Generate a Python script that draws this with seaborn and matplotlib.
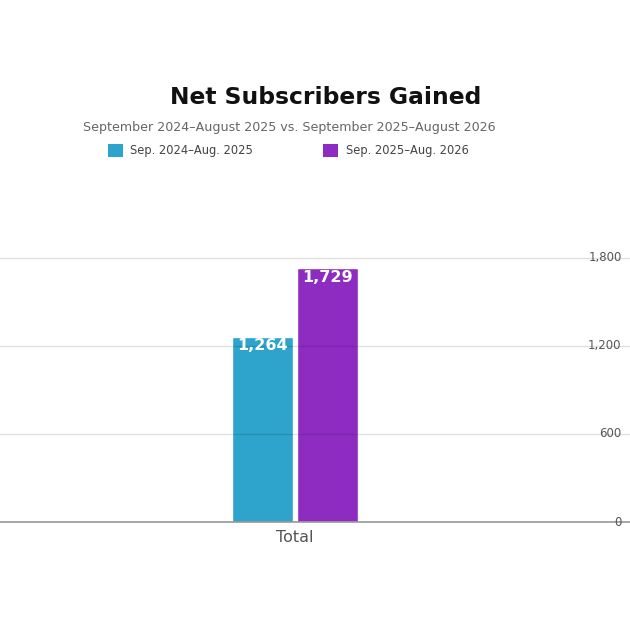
import numpy as np
import pandas as pd
import matplotlib
matplotlib.use('Agg')
import matplotlib.pyplot as plt
from matplotlib.patches import Patch
import seaborn as sns

# chart data
categories = ['Total']
series_names = ['Sep. 2024–Aug. 2025', 'Sep. 2025–Aug. 2026']
values_prev = [1264]
values_curr = [1729]
y_ticks = [0, 600, 1200, 1800]
colors = ['#2ea3cb', '#8e2cc2']

df = pd.DataFrame({
    'category': categories * 2,
    'period': [series_names[0]] * len(categories) + [series_names[1]] * len(categories),
    'value': values_prev + values_curr,
})

sns.set_style('white')
plt.rcParams['font.family'] = ['DejaVu Sans']

fig = plt.figure(figsize=(6.3, 6.3), dpi=100)
ax = fig.add_axes([0.0, 0.1714, 1.0, 0.4308])

sns.barplot(data=df, x='category', y='value', hue='period', hue_order=series_names,
            palette=colors, width=0.83, gap=0.06, saturation=1, legend=False, ax=ax)

ax.set_xlim(-1.873, 2.127)
ax.set_ylim(0, 1850)
ax.set_yticks(y_ticks)
ax.set_yticklabels([f'{v:,}' for v in y_ticks])
ax.yaxis.tick_right()
ax.tick_params(axis='y', length=0, pad=-6, labelsize=8.5, labelcolor='#555555')
for lab in ax.get_yticklabels():
    lab.set_horizontalalignment('right')
    lab.set_verticalalignment('center')
ax.tick_params(axis='x', length=0, labelsize=11.5, labelcolor='#555555', pad=6)
ax.set_xlabel('')
ax.set_ylabel('')

ax.grid(axis='y', color='#000000', alpha=0.12, linewidth=1)
ax.set_axisbelow(False)
for s in ['top', 'left', 'right']:
    ax.spines[s].set_visible(False)
ax.spines['bottom'].set_color('#999999')
ax.spines['bottom'].set_linewidth(1.2)

for bar in ax.patches:
    h = bar.get_height()
    if h > 0:
        ax.annotate(f'{int(round(h)):,}', (bar.get_x() + bar.get_width() / 2, h),
                    xytext=(0, -1), textcoords='offset points', ha='center', va='top',
                    color='white', fontsize=11.5, fontweight='bold')

fig.text(0.517, 0.846, 'Net Subscribers Gained', ha='center', va='center',
         fontsize=16.8, fontweight='bold', color='#111111')
fig.text(0.459, 0.797, 'September 2024–August 2025 vs. September 2025–August 2026',
         ha='center', va='center', fontsize=9.1, color='#666666')

handles = [Patch(facecolor=c, edgecolor='none') for c in colors]
fig.legend(handles, series_names, loc='upper left', bbox_to_anchor=(0.171, 0.771),
           ncol=2, frameon=False, fontsize=8.3, handlelength=1.3, handleheight=1.3,
           handletextpad=0.65, columnspacing=6.1, borderpad=0, borderaxespad=0,
           labelcolor='#444444')

fig.savefig('out.png', dpi=100, facecolor='white')
